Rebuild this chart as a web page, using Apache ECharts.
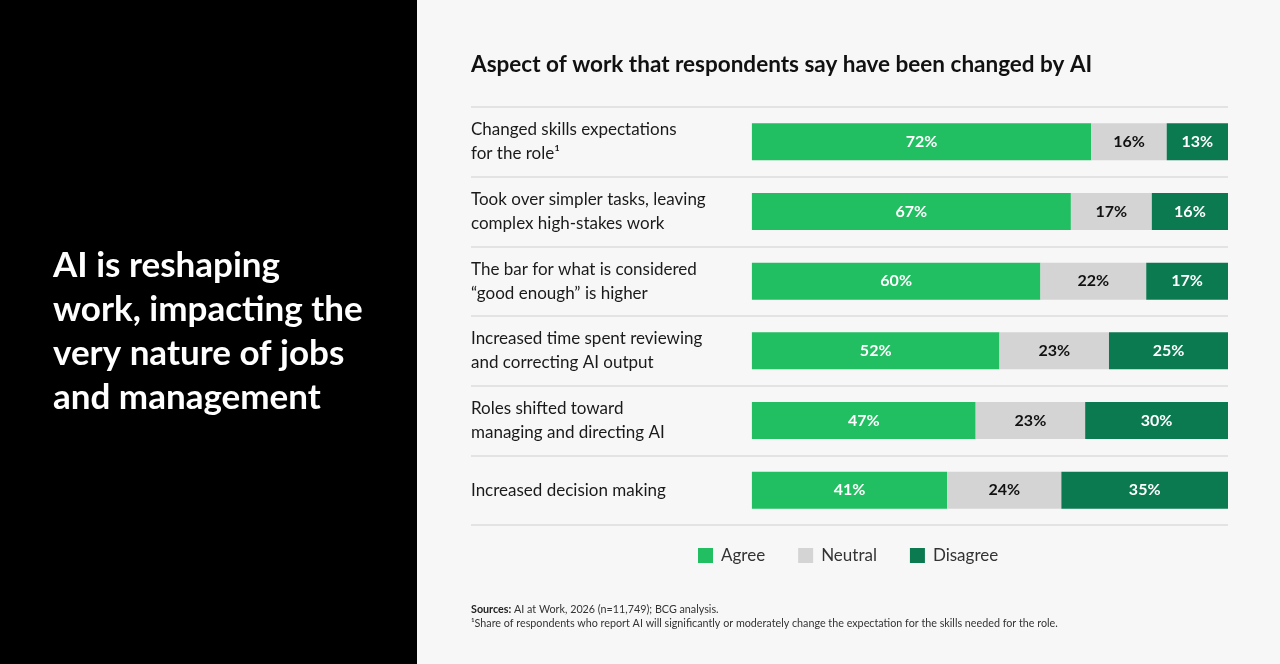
<!DOCTYPE html>
<html>
<head>
<meta charset="utf-8">
<script src="https://cdn.jsdelivr.net/npm/echarts@6/dist/echarts.min.js"></script>
<style>
  html, body { margin: 0; padding: 0; background: #f7f7f7; }
  #chart { width: 1280px; height: 664px; }
</style>
</head>
<body>
<div id="chart"></div>
<script>
var categories = [
	'Changed skills expectations\nfor the role\u00b9',
	'Took over simpler tasks, leaving\ncomplex high-stakes work',
	'The bar for what is considered\n\u201cgood enough\u201d is higher',
	'Increased time spent reviewing\nand correcting AI output',
	'Roles shifted toward\nmanaging and directing AI',
	'Increased decision making'
];

var agree = [72, 67, 60, 52, 47, 41];
var neutral = [16, 17, 22, 23, 23, 24];
var disagree = [13, 16, 17, 25, 30, 35];

var colors = ['#21bf61', '#d4d4d4', '#0b7a50'];
var font = 'Lato';

// bars fill the whole row, so each segment is shown as share of the row total
function share(arr) {
	return arr.map(function (v, i) {
		return v / (agree[i] + neutral[i] + disagree[i]) * 100;
	});
}

function makeSeries(name, raw, color, labelColor) {
	return {
		name: name,
		type: 'bar',
		stack: 'all',
		barWidth: 37,
		itemStyle: { color: color },
		label: {
			show: true,
			position: 'inside',
			color: labelColor,
			fontFamily: font,
			fontWeight: 'bold',
			fontSize: 16,
			formatter: function (p) { return raw[p.dataIndex] + '%'; }
		},
		emphasis: { disabled: true },
		data: share(raw)
	};
}

var myChart = echarts.init(document.getElementById('chart'));

myChart.setOption({
	backgroundColor: '#f7f7f7',
	animation: false,
	title: {
		text: 'Aspect of work that respondents say have been changed by AI',
		left: 466,
		top: 48,
		textStyle: { fontFamily: font, fontSize: 22.5, fontWeight: 'bold', color: '#111' }
	},
	legend: {
		data: ['Agree', 'Neutral', 'Disagree'],
		left: 693,
		top: 542,
		icon: 'rect',
		itemWidth: 15,
		itemHeight: 15,
		itemGap: 33,
		selectedMode: false,
		textStyle: { fontFamily: font, fontSize: 17, color: '#333', padding: [0, 0, 0, 3] }
	},
	grid: { left: 471, right: 52, top: 107, bottom: 139 },
	xAxis: {
		type: 'value',
		min: -59,
		max: 100,
		show: false
	},
	yAxis: {
		type: 'category',
		inverse: true,
		data: categories,
		axisLine: { show: false },
		axisTick: { show: false },
		splitLine: { show: true, lineStyle: { color: '#dcdcdc', width: 1.5 } },
		axisLabel: {
			inside: true,
			margin: 0,
			fontFamily: font,
			fontSize: 17,
			lineHeight: 24,
			color: '#1a1a1a'
		}
	},
	graphic: [
		{
			type: 'rect',
			left: 0, top: 0,
			shape: { width: 417, height: 664 },
			style: { fill: '#000' },
			silent: true
		},
		{
			type: 'text',
			left: 53,
			top: 244,
			style: {
				text: 'AI is reshaping\nwork, impacting the\nvery nature of jobs\nand management',
				fill: '#fff',
				font: 'bold 35px ' + font,
				lineHeight: 44
			}
		},
		{
			type: 'text',
			left: 471,
			top: 602,
			style: {
				text: '{b|Sources:} AI at Work, 2026 (n=11,749); BCG analysis.\n\u00b9Share of respondents who report AI will significantly or moderately change the expectation for the skills needed for the role.',
				fill: '#333',
				font: '10.75px ' + font,
				lineHeight: 14.5,
				rich: {
					b: { fontWeight: 'bold', fontFamily: font, fontSize: 10.75, fill: '#222' }
				}
			}
		}
	],
	series: [
		makeSeries('Agree', agree, colors[0], '#fff'),
		makeSeries('Neutral', neutral, colors[1], '#111'),
		makeSeries('Disagree', disagree, colors[2], '#fff')
	]
});
</script>
</body>
</html>
